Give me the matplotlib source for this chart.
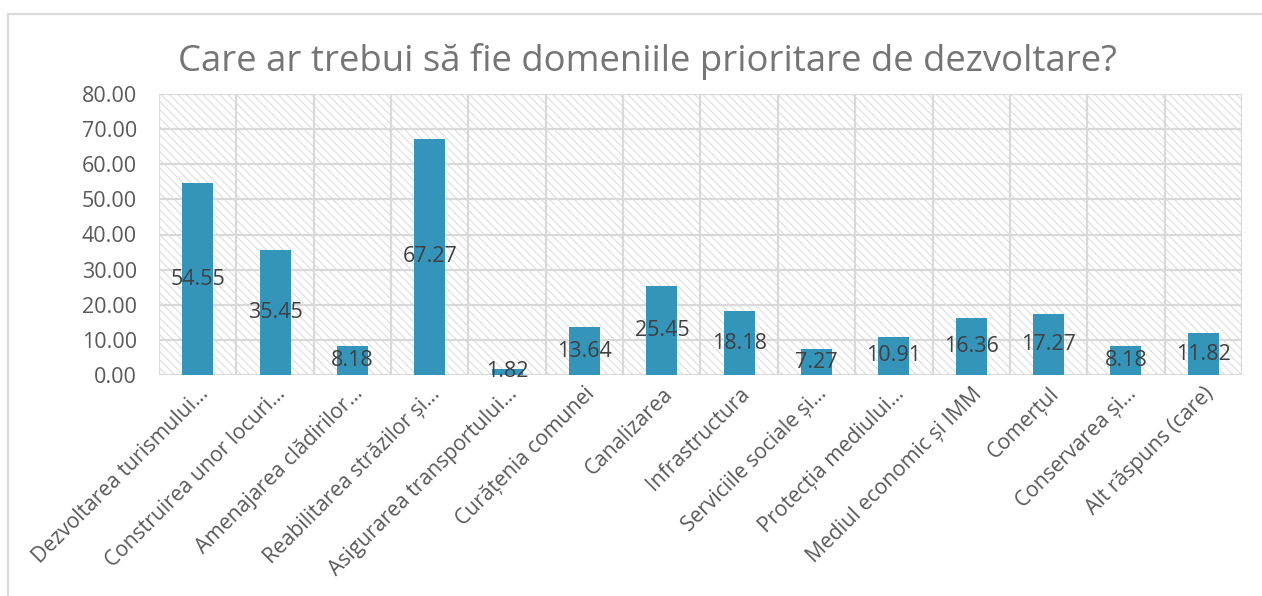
import matplotlib
matplotlib.use("Agg")
import matplotlib.pyplot as plt
from matplotlib.patches import Rectangle
from matplotlib.lines import Line2D
import numpy as np

categories = [
    "Dezvoltarea turismului…",
    "Construirea unor locuri…",
    "Amenajarea clădirilor…",
    "Reabilitarea străzilor și…",
    "Asigurarea transportului…",
    "Curățenia comunei",
    "Canalizarea",
    "Infrastructura",
    "Serviciile sociale și…",
    "Protecția mediului…",
    "Mediul economic și IMM",
    "Comerțul",
    "Conservarea și…",
    "Alt răspuns (care)",
]
values = [54.55, 35.45, 8.18, 67.27, 1.82, 13.64, 25.45, 18.18, 7.27, 10.91, 16.36, 17.27, 8.18, 11.82]
title = "Care ar trebui să fie domeniile prioritare de dezvoltare?"
yticks = [0, 10, 20, 30, 40, 50, 60, 70, 80]

plt.rcParams['font.family'] = ['Open Sans', 'DejaVu Sans']
plt.rcParams['hatch.linewidth'] = 0.8

fig = plt.figure(figsize=(12.62, 5.96), dpi=100)
ax = fig.add_axes([159/1262, 1-375/596, (1242-159)/1262, (375-94)/596])

n = len(categories)
x = np.arange(n)
ax.set_xlim(-0.5, n-0.5)
ax.set_ylim(0, 80)

# hatched background
bg = Rectangle((0, 0), 1, 1, transform=ax.transAxes, facecolor='white',
               edgecolor='#dedede', linewidth=0, hatch='\\\\\\\\', zorder=0)
ax.add_patch(bg)

# grid
grid_c = '#d9d9d9'
for yv in yticks:
    ax.axhline(yv, color=grid_c, lw=1.6, zorder=1)
for b in np.arange(-0.5, n, 1.0):
    ax.axvline(b, color=grid_c, lw=1.6, zorder=1)

bars = ax.bar(x, values, width=0.4, color='#3494ba', zorder=2)
for xi, v in zip(x, values):
    ax.text(xi, v/2, f"{v:.2f}", ha='center', va='center', fontsize=15.5,
            color='#404040', zorder=3)

for s in ax.spines.values():
    s.set_visible(False)

ax.set_yticks(yticks)
ax.set_yticklabels([f"{v:.2f}" for v in yticks], fontsize=15.5, color='#595959')
ax.set_xticks(x)
ax.set_xticklabels(categories, rotation=45, ha='right', rotation_mode='anchor',
                   fontsize=15.2, color='#595959')
ax.tick_params(axis='y', length=0, pad=16)
ax.tick_params(axis='x', length=0, pad=6)

fig.text(0.513, 1-62/596, title, ha='center', va='center', fontsize=26.3, color='#757575')

# figure border (left and top)
fig.add_artist(Line2D([8/1262, 8/1262], [0, 1-14/596], transform=fig.transFigure,
                      color='#d9d9d9', lw=1.5))
fig.add_artist(Line2D([8/1262, 1], [1-14/596, 1-14/596], transform=fig.transFigure,
                      color='#d9d9d9', lw=1.5))

fig.savefig("out.png", dpi=100)
